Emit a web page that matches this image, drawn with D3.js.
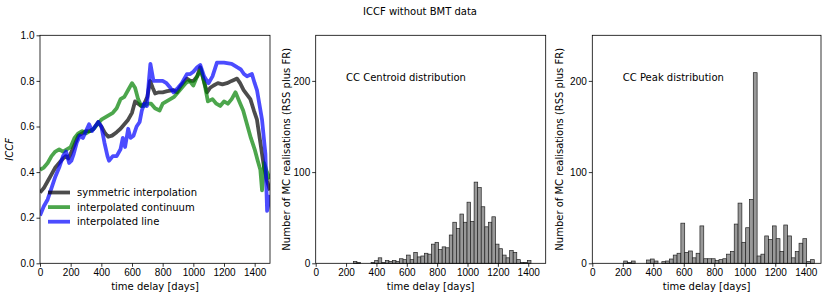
<!DOCTYPE html>
<html>
<head>
<meta charset="utf-8">
<script src="https://d3js.org/d3.v7.min.js"></script>
<style>
  body { margin: 0; background: #fff; }
  svg { font-family: "DejaVu Sans", sans-serif; font-size: 10px; }
  .axis path, .axis line { stroke: #000; stroke-width: 0.8; }
  .axis text { fill: #000; font-size: 10px; }
</style>
</head>
<body>
<div id="chart"></div>
<script>
// ICCF curves, [time delay in days, ICCF]
var symmetric = [[0,0.31],[25,0.33],[50,0.36],[75,0.39],[100,0.42],[125,0.44],[150,0.46],[170,0.47],[185,0.46],[200,0.48],
  [225,0.52],[250,0.56],[275,0.57],[300,0.58],[325,0.58],[350,0.59],[380,0.62],[400,0.60],[425,0.57],[445,0.555],
  [470,0.56],[500,0.575],[525,0.59],[550,0.61],[575,0.63],[600,0.66],[620,0.71],[640,0.70],[660,0.69],[680,0.70],
  [700,0.73],[718,0.80],[735,0.77],[751,0.745],[775,0.75],[800,0.75],[830,0.755],[870,0.76],[893,0.75],[920,0.78],
  [958,0.81],[980,0.80],[1001,0.80],[1025,0.82],[1045,0.86],[1065,0.81],[1089,0.75],[1110,0.77],[1132,0.78],[1160,0.79],
  [1190,0.785],[1219,0.79],[1250,0.80],[1285,0.81],[1305,0.79],[1328,0.76],[1350,0.74],[1372,0.72],[1395,0.67],[1415,0.63],
  [1437,0.53],[1459,0.43],[1481,0.36],[1500,0.32]];

var continuum = [[0,0.41],[25,0.42],[50,0.44],[75,0.47],[100,0.49],[125,0.50],[150,0.49],[175,0.50],[200,0.51],[225,0.55],
  [250,0.57],[275,0.58],[300,0.57],[325,0.58],[350,0.59],[375,0.61],[400,0.63],[425,0.64],[450,0.65],[475,0.66],
  [500,0.68],[525,0.72],[550,0.73],[575,0.76],[600,0.79],[620,0.77],[640,0.72],[660,0.69],[680,0.69],[700,0.70],
  [725,0.70],[750,0.68],[780,0.67],[800,0.70],[825,0.71],[850,0.72],[875,0.73],[900,0.75],[925,0.77],[950,0.79],
  [975,0.80],[1000,0.78],[1025,0.82],[1050,0.85],[1075,0.78],[1095,0.71],[1125,0.72],[1150,0.70],[1175,0.69],[1200,0.71],
  [1225,0.70],[1250,0.72],[1275,0.75],[1300,0.71],[1325,0.67],[1350,0.61],[1375,0.55],[1400,0.50],[1420,0.45],[1437,0.41],
  [1448,0.32],[1462,0.44],[1480,0.40],[1500,0.37]];

var lineInterp = [[0,0.21],[25,0.25],[50,0.28],[75,0.33],[100,0.38],[125,0.42],[150,0.47],[170,0.49],[190,0.44],[205,0.45],
  [220,0.48],[240,0.53],[260,0.56],[280,0.55],[300,0.58],[320,0.61],[340,0.58],[360,0.60],[380,0.62],[400,0.60],
  [420,0.53],[440,0.47],[450,0.45],[475,0.47],[500,0.47],[525,0.50],[540,0.55],[555,0.51],[575,0.59],[590,0.55],
  [610,0.56],[630,0.60],[650,0.62],[664,0.67],[680,0.70],[697,0.69],[710,0.80],[720,0.875],[740,0.80],[760,0.80],
  [800,0.80],[825,0.79],[850,0.77],[871,0.75],[900,0.77],[925,0.79],[958,0.83],[980,0.83],[1000,0.84],[1025,0.86],
  [1045,0.87],[1070,0.82],[1099,0.79],[1125,0.82],[1154,0.88],[1200,0.88],[1250,0.875],[1285,0.86],[1310,0.85],[1330,0.83],
  [1350,0.82],[1382,0.83],[1400,0.79],[1415,0.76],[1448,0.63],[1470,0.48],[1481,0.23],[1490,0.26],[1500,0.30]];

var seriesNames = ["symmetric interpolation", "interpolated continuum", "interpolated line"];
var seriesColors = ["#000000", "#008000", "#0000ff"];

// histograms: 50 bins each
var centroidStart = 248, centroidWidth = 23.4;
var centroidCounts = [2,1,0,0,0,1,3,6,1,3, 2,3,2,5,4,9,4,12,7,8, 11,10,21,23,15,18,17,31,45,38,
  54,45,67,46,89,83,62,40,45,51, 21,16,9,6,14,12,4,1,1,3];

var peakStart = 206, peakWidth = 25;
var peakCounts = [2.5,1,2.5,0,0,0,3.6,4.7,2.5,0, 1.8,2.5,4.7,9,11,44,12,13.5,6,11, 41,5,5,5,3,4,5,10,13,43,
  66,23,39,70,209,8,10,30,26,41, 27,13,42,30,6,13,22,27,2,4];

var dayTicks = [0,200,400,600,800,1000,1200,1400];
var iccfTicks = [0,0.2,0.4,0.6,0.8,1.0];
var countTicks = [0,100,200];

var svg = d3.select("#chart").append("svg")
  .attr("width", 831)
  .attr("height", 298);

svg.append("text")
  .attr("x", 420).attr("y", 15)
  .attr("text-anchor", "middle")
  .text("ICCF without BMT data");

var plotTop = 35.3, plotBottom = 263.3;

function drawFrame(x, y, yTicks, yFmt, ylabel, ylabelX, italic) {
  var g = svg.append("g");
  g.append("g").attr("class", "axis")
    .attr("transform", "translate(0," + plotBottom + ")")
    .call(d3.axisBottom(x).tickValues(dayTicks).tickSize(3.5).tickPadding(2).tickFormat(d3.format("d")));
  g.append("g").attr("class", "axis")
    .attr("transform", "translate(" + x.range()[0] + ",0)")
    .call(d3.axisLeft(y).tickValues(yTicks).tickSize(3.5).tickPadding(2).tickFormat(yFmt));
  g.selectAll(".axis .domain").remove();
  g.append("rect")
    .attr("x", x.range()[0]).attr("y", plotTop)
    .attr("width", x.range()[1] - x.range()[0]).attr("height", plotBottom - plotTop)
    .attr("fill", "none").attr("stroke", "#000").attr("stroke-width", 0.8);
  g.append("text")
    .attr("x", (x.range()[0] + x.range()[1]) / 2).attr("y", 290)
    .attr("text-anchor", "middle")
    .text("time delay [days]");
  g.append("text")
    .attr("transform", "translate(" + ylabelX + "," + (plotTop + plotBottom) / 2 + ") rotate(-90)")
    .attr("text-anchor", "middle")
    .style("font-style", italic ? "italic" : "normal")
    .text(ylabel);
}

// panel 1: ICCF
var x1 = d3.scaleLinear().domain([0, 1500]).range([40, 270]);
var y1 = d3.scaleLinear().domain([0, 1]).range([plotBottom, plotTop]);

var line = d3.line()
  .x(function (d) { return x1(d[0]); })
  .y(function (d) { return y1(d[1]); });

svg.append("clipPath").attr("id", "clip1")
  .append("rect").attr("x", 40).attr("y", plotTop).attr("width", 230).attr("height", plotBottom - plotTop);

[symmetric, continuum, lineInterp].forEach(function (s, i) {
  svg.append("path")
    .datum(s)
    .attr("clip-path", "url(#clip1)")
    .attr("d", line)
    .attr("fill", "none")
    .attr("stroke", seriesColors[i])
    .attr("stroke-opacity", 0.7)
    .attr("stroke-width", 3.8)
    .attr("stroke-linejoin", "round");
});

drawFrame(x1, y1, iccfTicks, d3.format(".1f"), "ICCF", 13, true);

// legend
seriesNames.forEach(function (name, i) {
  var ly = 192.5 + i * 14.6;
  svg.append("line")
    .attr("x1", 48).attr("x2", 70).attr("y1", ly).attr("y2", ly)
    .attr("stroke", seriesColors[i]).attr("stroke-opacity", 0.7).attr("stroke-width", 3.8);
  svg.append("text")
    .attr("x", 77).attr("y", ly + 3.6)
    .text(name);
});

// histogram panels
function histPanel(left, right, xmax, start, width, counts, label, ylabelX) {
  var x = d3.scaleLinear().domain([0, xmax]).range([left, right]);
  var y = d3.scaleLinear().domain([0, 250]).range([plotBottom, plotTop]);
  svg.append("g").selectAll("rect")
    .data(counts)
    .enter().append("rect")
    .attr("x", function (d, i) { return x(start + i * width); })
    .attr("width", x(width) - x(0))
    .attr("y", function (d) { return y(d); })
    .attr("height", function (d) { return plotBottom - y(d); })
    .attr("fill", "#999999")
    .attr("stroke", "#222")
    .attr("stroke-width", function (d) { return d > 0 ? 0.7 : 0; });
  drawFrame(x, y, countTicks, d3.format("d"), "Number of MC realisations (RSS plus FR)", ylabelX, false);
  svg.append("text")
    .attr("x", x(200)).attr("y", 81)
    .text(label);
}

histPanel(315.7, 545.7, 1515, centroidStart, centroidWidth, centroidCounts, "CC Centroid distribution", 290);
histPanel(592.3, 821, 1500, peakStart, peakWidth, peakCounts, "CC Peak distribution", 563);
</script>
</body>
</html>
